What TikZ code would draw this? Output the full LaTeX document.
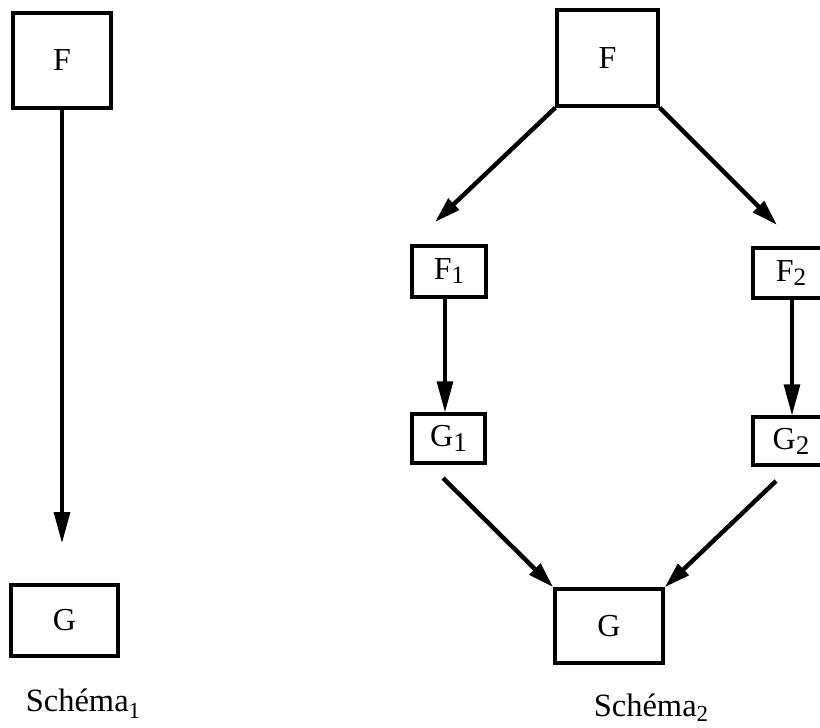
\documentclass[tikz,border=0pt]{standalone}
\usepackage{fontspec}
\setmainfont{Liberation Serif}
\usetikzlibrary{arrows.meta}
\newcommand\lowsub[3]{\raisebox{-#2pt}{\fontsize{#3}{#3}\selectfont #1}}
\tikzset{
  box/.style={draw, line width=3.4pt, inner sep=0pt, font=\fontsize{32}{32}\selectfont},
  vconn/.style={line width=3.2pt, -{Triangle[length=31pt,width=16pt]}},
  dconn/.style={line width=4.4pt, -{Triangle[length=26pt,width=15pt]}},
  schemalabel/.style={anchor=base, inner sep=0pt, font=\fontsize{32.5}{32.5}\selectfont}
}
\begin{document}
\begin{tikzpicture}[x=1pt,y=-1pt]
\useasboundingbox (0,0) rectangle (820,728);
% Schema 1
\node[box, minimum width=98pt, minimum height=95pt] (LF) at (62,60.5) {F};
\node[box, minimum width=107pt, minimum height=71pt] (LG) at (64.5,620.5) {G};
\coordinate (ltip) at (62,543);
\draw[vconn] (LF.south) -- (ltip);
\node[schemalabel] (S1) at (83,711) {Schéma\lowsub{1}{7}{23}};
% Schema 2
\node[box, minimum width=101pt, minimum height=96pt] (RF) at (607.5,58) {F};
\node[box, minimum width=74pt, minimum height=51pt] (F1) at (449,271.5) {F\lowsub{1}{4}{25}};
\node[box, minimum width=73pt, minimum height=49pt] (G1) at (448.5,438.5) {G\lowsub{1}{5}{27}};
\node[box, minimum width=76pt, minimum height=50pt] (F2) at (791,273) {F\lowsub{2}{4}{25}};
\node[box, minimum width=76pt, minimum height=48pt] (G2) at (791,441) {G\lowsub{2}{5}{27}};
\node[box, minimum width=108pt, minimum height=74pt] (G) at (609,626) {G};
\coordinate (t1) at (435,222);
\coordinate (t2) at (777,225);
\coordinate (s1) at (443,478);
\coordinate (s2) at (776,481);
\draw[dconn] (RF.south west) -- (t1);
\draw[dconn] (RF.south east) -- (t2);
\draw[vconn] ([xshift=-4pt]F1.south) -- ([xshift=-3.5pt]G1.north);
\draw[vconn] ([xshift=1pt]F2.south) -- ([xshift=1pt]G2.north);
\draw[dconn] (s1) -- (G.north west);
\draw[dconn] (s2) -- (G.north east);
\node[schemalabel] (S2) at (651,716) {Schéma\lowsub{2}{5}{23}};
\end{tikzpicture}
\end{document}
